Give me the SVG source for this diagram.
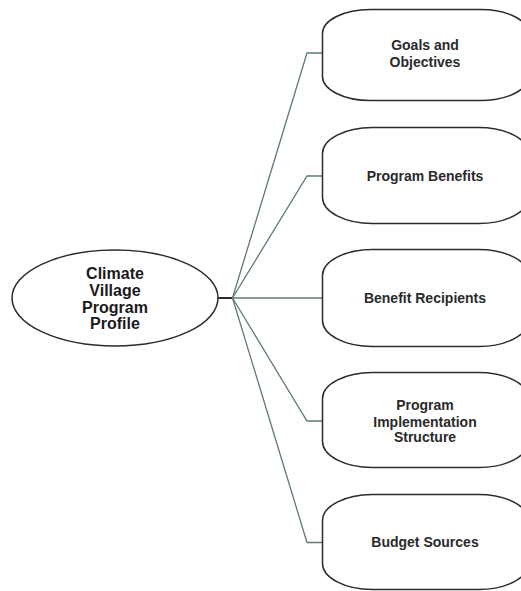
<svg xmlns="http://www.w3.org/2000/svg" width="521" height="591" viewBox="0 0 521 591">
<style>
.node{fill:#ffffff;stroke:#2b2b2b;stroke-width:1.5}
.conn{fill:none;stroke:#5f7a74;stroke-width:1.3}
.lbl{font-family:"Liberation Sans",Arial,sans-serif;font-weight:bold;font-size:14px;fill:#2a2a2a;text-anchor:middle}
.main{font-family:"Liberation Sans",Arial,sans-serif;font-weight:bold;font-size:16px;fill:#1a1a1a;text-anchor:middle}
</style>
<rect width="521" height="591" fill="#ffffff"/>
<g id="connectors">
<line x1="217" y1="298" x2="233" y2="298" stroke="#2b2b2b" stroke-width="2"/>
<polyline class="conn" points="232.5,298 307,53 322,53"/>
<polyline class="conn" points="232.5,298 307,176 322,176"/>
<polyline class="conn" points="232.5,298 322,298"/>
<polyline class="conn" points="232.5,298 307,421 322,421"/>
<polyline class="conn" points="232.5,298 307,542.5 322,542.5"/>
</g>
<g id="root">
<ellipse class="node" cx="115" cy="298" rx="103" ry="48"/>
<text class="main" x="115" y="279">Climate</text>
<text class="main" x="115" y="295.5">Village</text>
<text class="main" x="115" y="312.5">Program</text>
<text class="main" x="115" y="329">Profile</text>
</g>
<g id="goals">
<rect class="node" x="322.5" y="9.5" width="206" height="91" rx="48" ry="24"/>
<text class="lbl" x="425" y="50">Goals and</text>
<text class="lbl" x="425" y="66.5">Objectives</text>
</g>
<g id="benefits">
<rect class="node" x="322.5" y="127.5" width="206" height="96" rx="50" ry="26"/>
<text class="lbl" x="425" y="180.5">Program Benefits</text>
</g>
<g id="recipients">
<rect class="node" x="322.5" y="249.5" width="206" height="97" rx="50" ry="26"/>
<text class="lbl" x="425" y="303">Benefit Recipients</text>
</g>
<g id="structure">
<rect class="node" x="322.5" y="372.5" width="206" height="95" rx="50" ry="26"/>
<text class="lbl" x="425" y="410">Program</text>
<text class="lbl" x="425" y="426.5">Implementation</text>
<text class="lbl" x="425" y="442">Structure</text>
</g>
<g id="budget">
<rect class="node" x="322.5" y="494.5" width="206" height="95" rx="50" ry="26"/>
<text class="lbl" x="425" y="547">Budget Sources</text>
</g>
</svg>
